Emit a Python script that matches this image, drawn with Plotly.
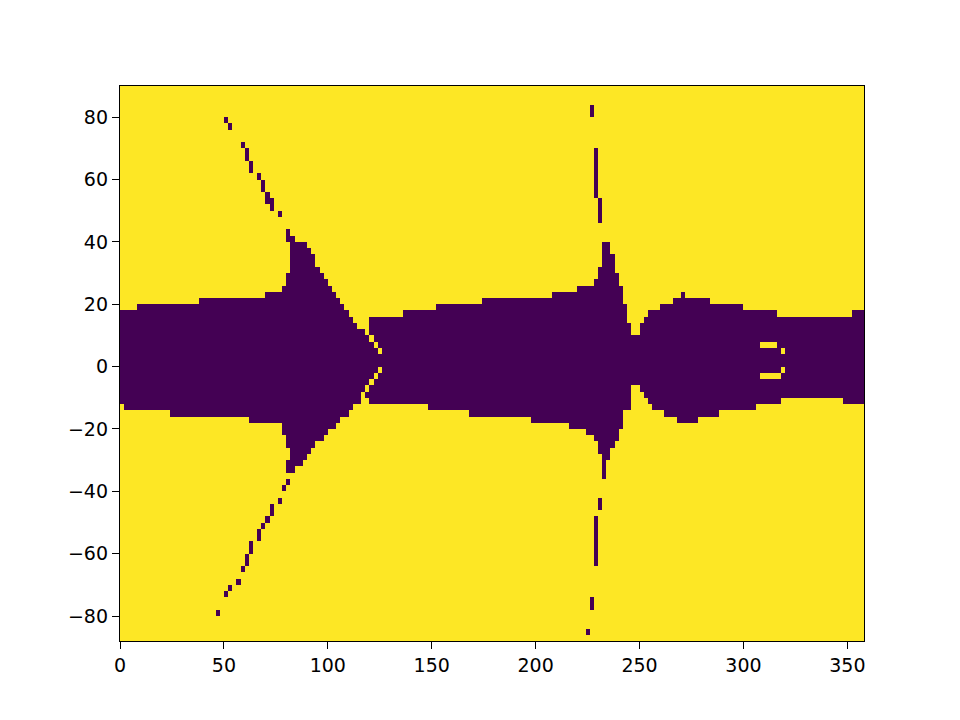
import numpy as np
import plotly.graph_objects as go

# Cell edges (degrees)
LON_EDGES = list(range(0, 360, 2))     # 0 .. 358
LAT_EDGES = list(range(-88, 92, 2))    # -88 .. 90

# Main dark band: (start longitude, upper latitude edge) runs
TOP_RUNS = [(0, 18), (8, 20), (38, 22), (70, 24), (78, 26), (80, 30), (82, 42),
            (84, 40), (90, 38), (92, 36), (94, 32), (96, 30), (98, 28), (100, 26),
            (102, 24), (104, 22), (106, 20), (108, 18), (110, 16), (112, 14),
            (114, 12), (118, 10), (120, 16), (136, 18), (152, 20), (174, 22),
            (208, 24), (220, 26), (228, 28), (230, 32), (232, 40), (236, 36),
            (238, 30), (240, 26), (242, 20), (244, 14), (246, 10), (250, 14),
            (252, 16), (254, 18), (260, 20), (266, 22), (284, 20), (300, 18),
            (316, 16), (352, 18)]

# Main dark band: (start longitude, lower latitude edge) runs
BOTTOM_RUNS = [(0, -12), (2, -14), (24, -16), (62, -18), (78, -22), (80, -26),
               (82, -34), (84, -32), (88, -30), (90, -28), (92, -26), (94, -24),
               (98, -22), (100, -20), (104, -18), (106, -16), (110, -14),
               (112, -12), (116, -8), (118, -10), (120, -12), (148, -14),
               (168, -16), (198, -18), (216, -20), (224, -22), (228, -24),
               (230, -28), (232, -36), (234, -30), (236, -26), (238, -24),
               (240, -20), (242, -14), (246, -6), (250, -8), (252, -10),
               (254, -12), (256, -14), (262, -16), (268, -18), (278, -16),
               (288, -14), (306, -12), (318, -10), (348, -12)]

# Isolated dark cells (lon, lower lat edge)
EXTRA_DARK = [
    # upper diagonal
    (50, 78), (52, 76), (58, 70), (60, 68), (60, 66), (62, 64), (62, 62),
    (66, 60), (68, 58), (68, 56), (70, 54), (70, 52), (72, 52), (72, 50), (76, 48),
    (80, 40), (80, 42),
    # lower diagonal
    (46, -80), (50, -74), (52, -72), (56, -70), (58, -66), (60, -64), (60, -62),
    (62, -60), (62, -58), (66, -56), (66, -54), (68, -52), (70, -50), (72, -48),
    (72, -46), (76, -44), (78, -40), (80, -38), (80, -34), (80, -32),
    # near-vertical streak
    (226, 80), (226, 82), (228, 54), (228, 56), (228, 58), (228, 60), (228, 62),
    (228, 64), (228, 66), (228, 68), (230, 46), (230, 48), (230, 50), (230, 52),
    (230, -46), (230, -44), (228, -64), (228, -62), (228, -60), (228, -58),
    (228, -56), (228, -54), (228, -52), (228, -50), (226, -78), (226, -76),
    (224, -86),
    (270, 22),
]

# Bright cells inside the band (lon, lower lat edge)
HOLES = [(120, 8), (122, 6), (124, 4), (124, -2), (122, -4), (120, -6), (118, -8),
         (308, 6), (310, 6), (312, 6), (314, 6), (318, 4), (318, -2),
         (308, -4), (310, -4), (312, -4), (314, -4), (316, -4)]


def run_value(runs, lon):
    val = runs[0][1]
    for start, v in runs:
        if lon >= start:
            val = v
    return val


lon_cells = LON_EDGES[:-1]
lat_cells = LAT_EDGES[:-1]
z = np.ones((len(lat_cells), len(lon_cells)))
for i, lon in enumerate(lon_cells):
    top = run_value(TOP_RUNS, lon)
    bot = run_value(BOTTOM_RUNS, lon)
    for j, lat in enumerate(lat_cells):
        if bot <= lat < top:
            z[j, i] = 0
for lon, lat in EXTRA_DARK:
    z[lat_cells.index(lat), lon_cells.index(lon)] = 0
for lon, lat in HOLES:
    z[lat_cells.index(lat), lon_cells.index(lon)] = 1

fig = go.Figure(go.Heatmap(
    x=LON_EDGES, y=LAT_EDGES, z=z,
    colorscale=[[0, '#440154'], [1, '#fde725']],
    zmin=0, zmax=1, showscale=False, hoverinfo='skip'))

axis_common = dict(showgrid=False, zeroline=False, showline=True, mirror=True,
                   linecolor='black', linewidth=1.3, ticks='outside', ticklen=7,
                   tickwidth=1.3, tickcolor='black',
                   tickfont=dict(family='DejaVu Sans', size=19, color='black'))

xt = [0, 50, 100, 150, 200, 250, 300, 350]
yt = [-80, -60, -40, -20, 0, 20, 40, 60, 80]
fig.update_xaxes(range=[0, 358], tickvals=xt, ticktext=[str(v) for v in xt], **axis_common)
fig.update_yaxes(range=[-88, 90], tickvals=yt,
                 ticktext=[str(v).replace('-', '\u2212') for v in yt], **axis_common)
fig.update_layout(width=960, height=720, margin=dict(l=120, r=96, t=86, b=79),
                  plot_bgcolor='white', paper_bgcolor='white')
fig.write_html("out.html")
